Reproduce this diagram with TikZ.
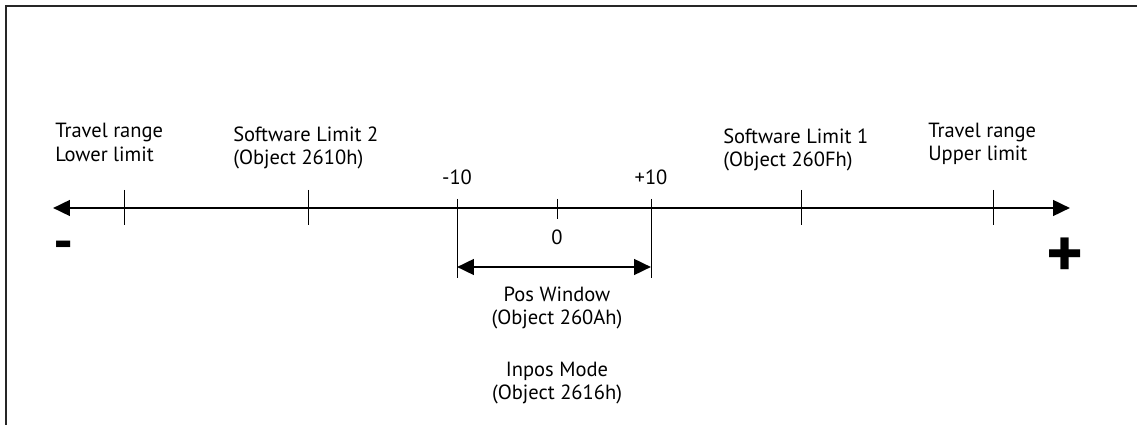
\documentclass[tikz,border=0pt]{standalone}
\usepackage{fontspec}
\setmainfont{PT Sans}
\usetikzlibrary{arrows.meta}

\begin{document}
\begin{tikzpicture}[x=0.025cm, y=-0.025cm]

    % --- Grundeinstellungen für Styles ---
    \tikzset{
        lbl/.style={font=\fontsize{14.6}{17}\selectfont, inner sep=0pt, align=left, anchor=base west},
        lblc/.style={lbl, align=center, anchor=base},
        axisline/.style={line width=2pt, {Triangle[length=12pt, width=11pt]}-{Triangle[length=12pt, width=11pt]}},
        tickmark/.style={line width=0.7pt},
        signlabel/.style={font=\fontsize{40}{40}\selectfont\bfseries, inner sep=0pt},
        frameline/.style={line width=1pt, black!85}
    }

    % Bildgröße wie im Original
    \useasboundingbox (0,0) rectangle (1137,425);

    % Rahmen (nur oben und links)
    \draw[frameline] (6,425) -- (6,6) -- (1137,6);

    % --- 1. Achse ---
    \coordinate (axl) at (53,208);
    \coordinate (axr) at (1070,208);
    \draw[axisline] (axl) -- (axr);

    % Markierungen auf der Achse
    \coordinate (trlow) at (124,208);
    \coordinate (swl2) at (308,208);
    \coordinate (wminus) at (457,208);
    \coordinate (zero) at (557,208);
    \coordinate (wplus) at (651,208);
    \coordinate (swl1) at (801,208);
    \coordinate (trup) at (993,208);

    \draw[tickmark] (trlow) ++(0,-18) -- ++(0,35);
    \draw[tickmark] (swl2) ++(0,-18) -- ++(0,35);
    \draw[tickmark] (swl1) ++(0,-18) -- ++(0,35);
    \draw[tickmark] (trup) ++(0,-18) -- ++(0,35);
    \draw[tickmark] (zero) ++(0,-9) -- ++(0,20);
    \draw[tickmark] (wminus) ++(0,-9) -- ++(0,79);
    \draw[tickmark] (wplus) ++(0,-9) -- ++(0,79);

    % --- 2. Positionsfenster (Doppelpfeil) ---
    \coordinate (winl) at (457,267);
    \coordinate (winr) at (651,267);
    \draw[axisline] (winl) -- (winr);

    % --- 3. Beschriftungen ---
    % base = Grundlinie der letzten Zeile
    \node[lbl] (lowlbl) at (55,161.5) {Travel range\\Lower limit};
    \node[lbl] (swl2lbl) at (233,165) {Software Limit 2\\(Object 2610h)};
    \node[lbl] (swl1lbl) at (723,167) {Software Limit 1\\(Object 260Fh)};
    \node[lbl] (uplbl) at (928,161) {Travel range\\Upper limit};

    \node[lblc] (m10) at (457,185) {-10};
    \node[lblc] (p10) at (651,185) {+10};
    \node[lblc] (null) at (557,245) {0};

    \node[lblc] (poswin) at (557,325) {Pos Window\\(Object 260Ah)};
    \node[lblc] (inpos) at (557,400) {Inpos Mode\\(Object 2616h)};

    % Vorzeichen der Richtung
    \node[signlabel] (minus) at (64,251) {-};
    \node[signlabel, font=\fontsize{50}{50}\selectfont\bfseries] (plus) at (1065,258) {+};

\end{tikzpicture}
\end{document}
